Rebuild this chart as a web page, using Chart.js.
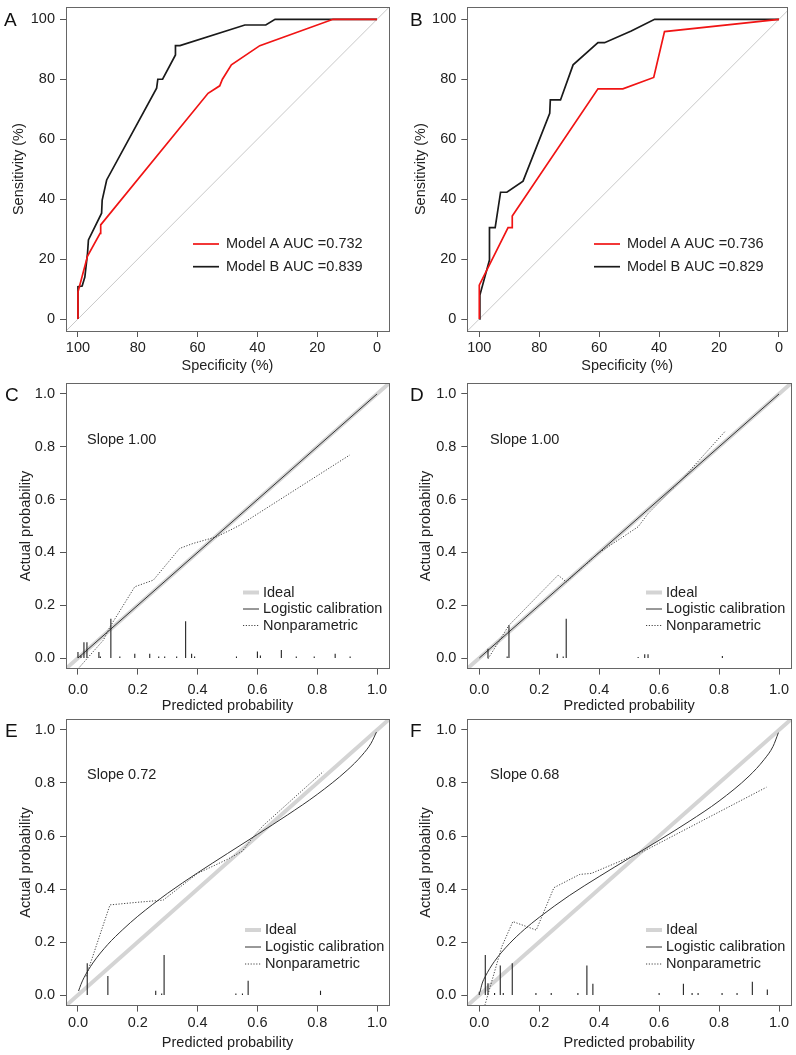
<!DOCTYPE html>
<html>
<head>
<meta charset="utf-8">
<script src="https://cdn.jsdelivr.net/npm/chart.js@4.4.1/dist/chart.umd.min.js"></script>
<style>
  body { margin: 0; background: #fff; width: 796px; height: 1055px; position: relative; overflow: hidden; }
  canvas { position: absolute; }
  .letter { position: absolute; font: 19px "Liberation Sans", Arial, sans-serif; line-height: 19px; color: #111; }
</style>
</head>
<body>
<script>
// --- ROC data: specificity (%) / sensitivity (%) ---
const rocTicks = [0, 20, 40, 60, 80, 100];

const aModelASpec = [100, 100, 96.8, 92.6, 92.4, 56.5, 52.6, 51.7, 48.7, 39.2, 14.7, 0];
const aModelASens = [0, 9, 21, 28.6, 31.4, 75.3, 77.8, 80, 84.8, 91.2, 100, 100];
const aModelBSpec = [100, 100, 98.6, 97.7, 96.8, 96.5, 92.1, 91.9, 90.4, 73.7, 73.3, 71.7, 67.4, 67.4, 65.9, 44.2, 37.2, 34.1, 14.7, 0];
const aModelBSens = [0, 10.8, 11, 14, 22, 26.4, 35.3, 39.7, 46.4, 77, 80, 80, 88.1, 91.2, 91.2, 98.1, 98.1, 100, 100, 100];

const bModelASpec = [100, 100, 90.4, 89, 89, 60.4, 52.1, 41.8, 38.2, 0];
const bModelASens = [0, 11.3, 30.5, 30.5, 34.4, 76.8, 76.8, 80.6, 95.9, 100];
const bModelBSpec = [100, 99.8, 96.6, 96.6, 94.7, 92.9, 90.8, 85.4, 76.5, 76.3, 72.9, 68.7, 60.4, 58.2, 49.3, 41.5, 0];
const bModelBSens = [0, 8, 19.7, 30.5, 30.5, 42.3, 42.3, 46, 68.6, 73.1, 73.1, 84.8, 92.2, 92.2, 96.1, 100, 100];

const chanceSpec = [110, -10];
const chanceSens = [-10, 110];

// --- Calibration data: predicted / actual probability ---
const probTicks = [0, 0.2, 0.4, 0.6, 0.8, 1.0];
const idealX = [-0.1, 1.1];
const idealY = [-0.1, 1.1];

const cLogX = [0, 1];
const cLogY = [0, 1];
const cNpX = [0.001, 0.085, 0.107, 0.19, 0.252, 0.34, 0.385, 0.463, 0.519, 0.541, 0.909];
const cNpY = [-0.04, 0.068, 0.118, 0.27, 0.295, 0.415, 0.434, 0.459, 0.49, 0.503, 0.769];
const cRugX = [0, 0.01, 0.02, 0.03, 0.07, 0.075, 0.11, 0.14, 0.19, 0.24, 0.27, 0.29, 0.33, 0.36, 0.38, 0.39, 0.53, 0.6, 0.61, 0.68, 0.73, 0.79, 0.86, 0.91];
const cRugH = [0.023, 0.01, 0.06, 0.06, 0.023, 0.006, 0.149, 0.006, 0.016, 0.016, 0.006, 0.006, 0.006, 0.139, 0.016, 0.006, 0.006, 0.025, 0.01, 0.03, 0.006, 0.006, 0.016, 0.006];

const dLogX = [0, 1];
const dLogY = [0, 1];
const dNpX = [0.029, 0.099, 0.263, 0.29, 0.396, 0.53, 0.563, 0.674, 0.819];
const dNpY = [-0.003, 0.124, 0.314, 0.288, 0.396, 0.497, 0.547, 0.674, 0.857];
const dRugX = [0.029, 0.093, 0.099, 0.26, 0.28, 0.29, 0.53, 0.552, 0.563, 0.811];
const dRugH = [0.035, 0.006, 0.124, 0.016, 0.006, 0.149, 0.004, 0.014, 0.014, 0.008];

const eLogX = [0.002, 0.01, 0.02, 0.05, 0.1, 0.15, 0.2, 0.3, 0.4, 0.5, 0.6, 0.7, 0.8, 0.9, 0.95, 0.98, 0.998];
const eLogY = [0.015, 0.04, 0.065, 0.121, 0.191, 0.247, 0.297, 0.384, 0.461, 0.534, 0.606, 0.679, 0.757, 0.848, 0.905, 0.95, 0.992];
const eNpX = [0.027, 0.107, 0.2, 0.285, 0.4, 0.5, 0.55, 0.586, 0.62, 0.82];
const eNpY = [0.07, 0.34, 0.35, 0.358, 0.459, 0.512, 0.543, 0.597, 0.64, 0.843];
const eRugX = [0.031, 0.1, 0.26, 0.28, 0.288, 0.528, 0.55, 0.569, 0.811];
const eRugH = [0.12, 0.072, 0.016, 0.006, 0.151, 0.006, 0.006, 0.054, 0.016];

const fLogX = [0.002, 0.01, 0.02, 0.05, 0.1, 0.15, 0.2, 0.3, 0.4, 0.5, 0.6, 0.7, 0.8, 0.9, 0.95, 0.98, 0.998];
const fLogY = [0.01, 0.045, 0.07, 0.126, 0.193, 0.247, 0.293, 0.375, 0.447, 0.516, 0.584, 0.655, 0.732, 0.826, 0.888, 0.938, 0.99];
const fNpX = [0.008, 0.075, 0.112, 0.19, 0.249, 0.335, 0.374, 0.546, 0.958];
const fNpY = [-0.08, 0.182, 0.277, 0.245, 0.405, 0.455, 0.459, 0.541, 0.784];
const fRugX = [0, 0.02, 0.029, 0.051, 0.07, 0.08, 0.11, 0.189, 0.24, 0.329, 0.359, 0.379, 0.6, 0.681, 0.71, 0.73, 0.81, 0.86, 0.911, 0.961];
const fRugH = [0.012, 0.151, 0.044, 0.008, 0.111, 0.008, 0.12, 0.008, 0.008, 0.008, 0.111, 0.042, 0.008, 0.042, 0.008, 0.008, 0.008, 0.008, 0.05, 0.021];

// --- Chart helpers ---
Chart.defaults.font.family = '"Liberation Sans", Arial, Helvetica, sans-serif';
Chart.defaults.font.size = 14.5;
Chart.defaults.color = '#222';
Chart.defaults.animation = false;

const FONT = '14.5px "Liberation Sans", Arial, sans-serif';
const IDEAL_GRAY = '#d4d4d4';

function pts(xs, ys) {
  return xs.map((x, i) => ({ x: x, y: ys[i] }));
}

// spike histogram: one vertical segment per predicted value, broken by nulls
function rug(xs, hs) {
  const out = [];
  xs.forEach((x, i) => { out.push({ x: x, y: 0 }, { x: x, y: hs[i] }, { x: x, y: null }); });
  return out;
}

function lineSet(data, color, width, dash, smooth) {
  return {
    data: data, showLine: true, borderColor: color, borderWidth: width, borderDash: dash || [],
    pointRadius: 0, pointHoverRadius: 0, fill: false, clip: 0, spanGaps: false,
    tension: smooth ? 0.4 : 0, cubicInterpolationMode: smooth ? 'monotone' : 'default'
  };
}

// draws the plot box, slope text and in-plot legend
const panelDecor = {
  id: 'panelDecor',
  afterDraw(chart, args, o) {
    const ctx = chart.ctx, a = chart.chartArea;
    ctx.save();
    ctx.strokeStyle = '#666';
    ctx.lineWidth = 1;
    ctx.strokeRect(Math.round(a.left) + 0.5, Math.round(a.top) + 0.5, Math.round(a.right - a.left), Math.round(a.bottom - a.top));
    ctx.font = FONT;
    ctx.fillStyle = '#222';
    ctx.textBaseline = 'middle';
    if (o.slope) ctx.fillText(o.slope, o.slopeX - o.ox, o.slopeY - o.oy);
    o.legend.forEach(item => {
      ctx.beginPath();
      ctx.strokeStyle = item.color;
      ctx.lineWidth = item.width;
      ctx.setLineDash(item.dash || []);
      ctx.moveTo(o.segX0 - o.ox, item.y - o.oy);
      ctx.lineTo(o.segX1 - o.ox, item.y - o.oy);
      ctx.stroke();
      ctx.setLineDash([]);
      ctx.fillStyle = '#222';
      ctx.fillText(item.text, o.textX - o.ox, item.y - o.oy);
    });
    ctx.restore();
  }
};

function makeScale(p, axis, s) {
  const isX = axis === 'x';
  return {
    type: 'linear', position: isX ? 'bottom' : 'left',
    min: s.min, max: s.max, reverse: !!s.reverse, offset: false,
    afterBuildTicks: sc => { sc.ticks = s.ticks.map(v => ({ value: v })); },
    afterFit: sc => {
      if (isX) { sc.height = p.T + p.H - p.box[3]; sc.paddingLeft = 0; sc.paddingRight = 0; }
      else { sc.width = p.box[0] - p.L; sc.paddingTop = 0; sc.paddingBottom = 0; }
    },
    ticks: { autoSkip: false, maxRotation: 0, minRotation: 0, padding: isX ? p.tickPadX : 5, callback: s.fmt, color: '#222' },
    grid: { drawOnChartArea: false, drawTicks: true, tickLength: 6, tickColor: '#555', offset: false },
    border: { display: false },
    title: { display: true, text: s.title, color: '#222', padding: isX ? { top: 0, bottom: 0 } : { top: p.titlePadY, bottom: 0 } }
  };
}

function makePanel(p) {
  const cv = document.createElement('canvas');
  cv.width = p.W; cv.height = p.H;
  cv.style.left = p.L + 'px'; cv.style.top = p.T + 'px';
  cv.style.width = p.W + 'px'; cv.style.height = p.H + 'px';
  document.body.appendChild(cv);

  const lab = document.createElement('div');
  lab.className = 'letter';
  lab.textContent = p.letter;
  lab.style.left = p.letterX + 'px';
  lab.style.top = (p.letterY - 9.5) + 'px';
  document.body.appendChild(lab);

  new Chart(cv, {
    type: 'scatter',
    data: { datasets: p.datasets },
    options: {
      responsive: false,
      devicePixelRatio: 1,
      layout: { padding: { left: 0, top: p.box[1] - p.T, right: p.L + p.W - p.box[2], bottom: 0 } },
      scales: { x: makeScale(p, 'x', p.x), y: makeScale(p, 'y', p.y) },
      plugins: {
        legend: { display: false }, tooltip: { enabled: false },
        panelDecor: Object.assign({ ox: p.L, oy: p.T }, p.decor)
      }
    },
    plugins: [panelDecor]
  });
}

const fmtInt = v => String(v);
const fmtProb = v => v.toFixed(1);

function rocScales(xmin) {
  return {
    x: { min: xmin, max: 104, reverse: true, ticks: rocTicks, fmt: fmtInt, title: 'Specificity (%)' },
    y: { min: -4, max: 104, ticks: rocTicks, fmt: fmtInt, title: 'Sensitivity (%)' }
  };
}
function calScales() {
  return {
    x: { min: -0.04, max: 1.04, ticks: probTicks, fmt: fmtProb, title: 'Predicted probability' },
    y: { min: -0.04, max: 1.04, ticks: probTicks, fmt: fmtProb, title: 'Actual probability' }
  };
}

function rocSets(sA, yA, sB, yB) {
  return [
    lineSet(pts(sA, yA), '#f01414', 1.7),
    lineSet(pts(sB, yB), '#1a1a1a', 1.7),
    lineSet(pts(chanceSpec, chanceSens), '#c8c8c8', 1)
  ];
}
function calSets(lx, ly, nx, ny, rx, rh) {
  return [
    lineSet(rug(rx, rh), '#222', 1.1),
    lineSet(pts(nx, ny), '#444', 1, [1.2, 1.6]),
    lineSet(pts(lx, ly), '#333', 1, null, lx.length > 2),
    lineSet(pts(idealX, idealY), IDEAL_GRAY, 4)
  ];
}
function rocLegend(x0, labels) {
  return { segX0: x0, segX1: x0 + 26, textX: x0 + 33, legend: [
    { y: 244, color: '#f01414', width: 1.7, text: labels[0] },
    { y: 266.7, color: '#1a1a1a', width: 1.7, text: labels[1] }
  ] };
}
function calLegend(x0, rows, slope, slopeX, slopeY) {
  return { segX0: x0, segX1: x0 + 16, textX: x0 + 20, slope: slope, slopeX: slopeX, slopeY: slopeY, legend: [
    { y: rows[0], color: IDEAL_GRAY, width: 4, text: 'Ideal' },
    { y: rows[1], color: '#333', width: 1, text: 'Logistic calibration' },
    { y: rows[2], color: '#444', width: 1, dash: [1.2, 1.6], text: 'Nonparametric' }
  ] };
}

const panels = [
  Object.assign({ letter: 'A', letterX: 4, letterY: 19, L: 0, T: 0, W: 396, H: 375, box: [66, 7.3, 389, 331], tickPadX: 2.3, titlePadY: 10.5,
    datasets: rocSets(aModelASpec, aModelASens, aModelBSpec, aModelBSens),
    decor: rocLegend(193, ['Model A AUC =0.732', 'Model B AUC =0.839']) }, rocScales(-4)),
  Object.assign({ letter: 'B', letterX: 410, letterY: 19, L: 398, T: 0, W: 398, H: 375, box: [467.3, 7.3, 787, 331], tickPadX: 2.3, titlePadY: 14.6,
    datasets: rocSets(bModelASpec, bModelASens, bModelBSpec, bModelBSens),
    decor: rocLegend(594, ['Model A AUC =0.736', 'Model B AUC =0.829']) }, rocScales(-2.67)),
  Object.assign({ letter: 'C', letterX: 5, letterY: 394, L: 0, T: 375, W: 396, H: 340, box: [66, 383.4, 389, 668.6], tickPadX: 6.7, titlePadY: 17.1,
    datasets: calSets(cLogX, cLogY, cNpX, cNpY, cRugX, cRugH),
    decor: calLegend(243, [592.5, 609, 625.5], 'Slope 1.00', 87, 440) }, calScales()),
  Object.assign({ letter: 'D', letterX: 410, letterY: 394, L: 398, T: 375, W: 398, H: 340, box: [467.3, 383.4, 791, 668.6], tickPadX: 6.7, titlePadY: 19,
    datasets: calSets(dLogX, dLogY, dNpX, dNpY, dRugX, dRugH),
    decor: calLegend(646, [592.5, 609, 625.5], 'Slope 1.00', 490, 440) }, calScales()),
  Object.assign({ letter: 'E', letterX: 5, letterY: 730, L: 0, T: 715, W: 396, H: 337, box: [66, 719.4, 389, 1005.6], tickPadX: 3, titlePadY: 17.1,
    datasets: calSets(eLogX, eLogY, eNpX, eNpY, eRugX, eRugH),
    decor: calLegend(245, [930, 947, 964], 'Slope 0.72', 87, 775) }, calScales()),
  Object.assign({ letter: 'F', letterX: 410, letterY: 730, L: 398, T: 715, W: 398, H: 337, box: [467.3, 719.4, 791, 1005.6], tickPadX: 3, titlePadY: 19.5,
    datasets: calSets(fLogX, fLogY, fNpX, fNpY, fRugX, fRugH),
    decor: calLegend(646, [930, 947, 964], 'Slope 0.68', 490, 775) }, calScales())
];

panels.forEach(makePanel);
</script>
</body>
</html>
